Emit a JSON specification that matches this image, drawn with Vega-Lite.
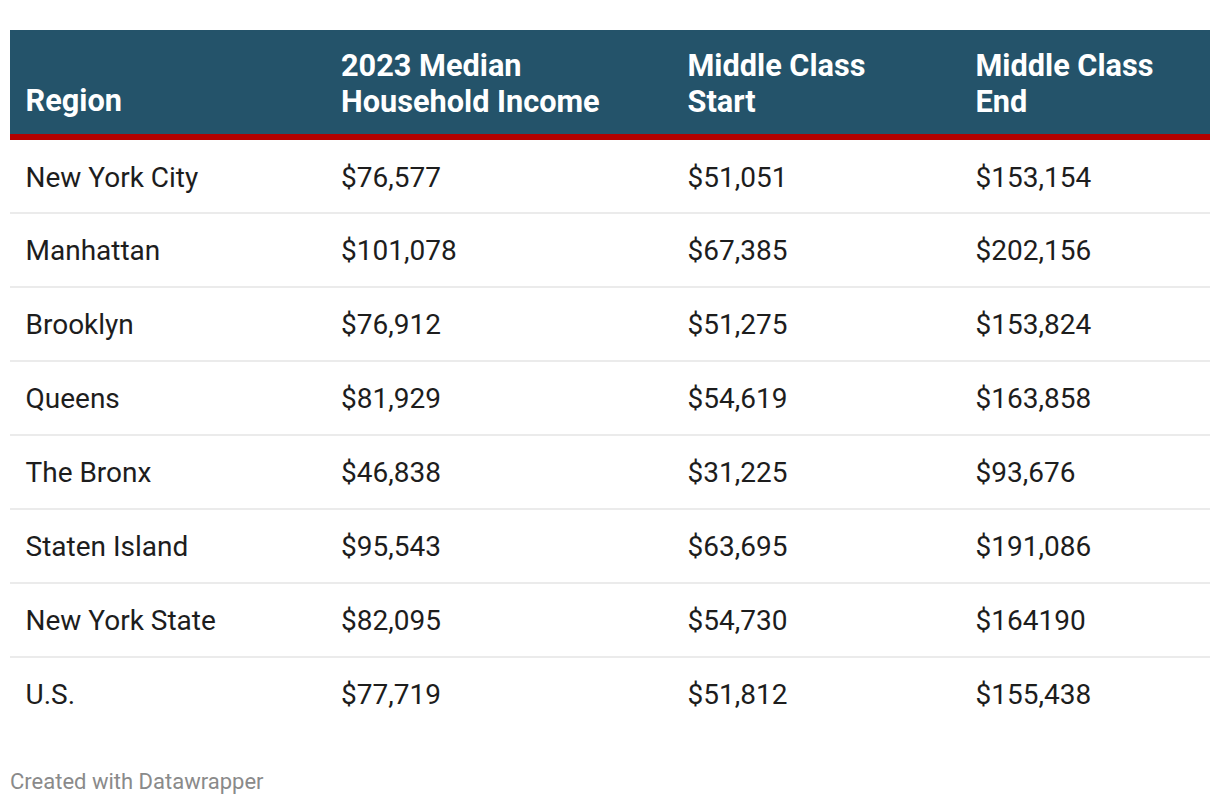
{
  "$schema": "https://vega.github.io/schema/vega-lite/v6.json",
  "width": 1220,
  "height": 806,
  "autosize": {"type": "fit", "contains": "padding"},
  "padding": {"left": 10, "right": 10, "top": 0, "bottom": 13},
  "background": "white",
  "config": {"font": "Roboto", "view": {"stroke": null}},
  "title": {
    "text": "Created with Datawrapper",
    "orient": "bottom",
    "anchor": "start",
    "fontSize": 22,
    "fontWeight": "normal",
    "font": "Roboto",
    "color": "#8a8a8a",
    "offset": 0
  },
  "data": {
    "values": [
      {"row": 0, "col": 0, "text": "Region"},
      {"row": 0, "col": 1, "text": "2023 Median\nHousehold Income"},
      {"row": 0, "col": 2, "text": "Middle Class\nStart"},
      {"row": 0, "col": 3, "text": "Middle Class\nEnd"},
      {"row": 1, "col": 0, "text": "New York City"},
      {"row": 1, "col": 1, "text": "$76,577"},
      {"row": 1, "col": 2, "text": "$51,051"},
      {"row": 1, "col": 3, "text": "$153,154"},
      {"row": 2, "col": 0, "text": "Manhattan"},
      {"row": 2, "col": 1, "text": "$101,078"},
      {"row": 2, "col": 2, "text": "$67,385"},
      {"row": 2, "col": 3, "text": "$202,156"},
      {"row": 3, "col": 0, "text": "Brooklyn"},
      {"row": 3, "col": 1, "text": "$76,912"},
      {"row": 3, "col": 2, "text": "$51,275"},
      {"row": 3, "col": 3, "text": "$153,824"},
      {"row": 4, "col": 0, "text": "Queens"},
      {"row": 4, "col": 1, "text": "$81,929"},
      {"row": 4, "col": 2, "text": "$54,619"},
      {"row": 4, "col": 3, "text": "$163,858"},
      {"row": 5, "col": 0, "text": "The Bronx"},
      {"row": 5, "col": 1, "text": "$46,838"},
      {"row": 5, "col": 2, "text": "$31,225"},
      {"row": 5, "col": 3, "text": "$93,676"},
      {"row": 6, "col": 0, "text": "Staten Island"},
      {"row": 6, "col": 1, "text": "$95,543"},
      {"row": 6, "col": 2, "text": "$63,695"},
      {"row": 6, "col": 3, "text": "$191,086"},
      {"row": 7, "col": 0, "text": "New York State"},
      {"row": 7, "col": 1, "text": "$82,095"},
      {"row": 7, "col": 2, "text": "$54,730"},
      {"row": 7, "col": 3, "text": "$164190"},
      {"row": 8, "col": 0, "text": "U.S."},
      {"row": 8, "col": 1, "text": "$77,719"},
      {"row": 8, "col": 2, "text": "$51,812"},
      {"row": 8, "col": 3, "text": "$155,438"}
    ]
  },
  "layer": [
    {
      "transform": [{"filter": "datum.row === 0 && datum.col === 0"}],
      "mark": {"type": "rect", "color": "#24536a", "y2Offset": -6},
      "encoding": {
        "x": {"datum": 0, "type": "quantitative", "axis": null,
              "scale": {"domain": [0, 1, 2, 3, 4], "range": [0, 315.5, 662, 950, 1200], "nice": false, "zero": false}},
        "x2": {"datum": 4},
        "y": {"datum": 0, "type": "quantitative", "axis": null,
              "scale": {"domain": [0, 1, 2, 9], "range": [30, 140, 213, 731], "nice": false, "zero": false}},
        "y2": {"datum": 1}
      }
    },
    {
      "transform": [{"filter": "datum.row === 0 && datum.col === 0"}],
      "mark": {"type": "rect", "color": "#b30000", "yOffset": -6},
      "encoding": {
        "x": {"datum": 0, "type": "quantitative", "axis": null},
        "x2": {"datum": 4},
        "y": {"datum": 1, "type": "quantitative", "axis": null},
        "y2": {"datum": 1}
      }
    },
    {
      "transform": [{"filter": "datum.row >= 2 && datum.col === 0"}],
      "mark": {"type": "rect", "color": "#ebebeb", "yOffset": -1, "y2Offset": 1},
      "encoding": {
        "x": {"datum": 0, "type": "quantitative", "axis": null},
        "x2": {"datum": 4},
        "y": {"field": "row", "type": "quantitative", "axis": null},
        "y2": {"field": "row"}
      }
    },
    {
      "transform": [{"filter": "datum.row === 0 && datum.col === 0"}],
      "mark": {"type": "text", "align": "left", "baseline": "bottom",
               "fontSize": 30.7, "fontWeight": "bold", "color": "#ffffff", "dx": 15.5, "dy": -23},
      "encoding": {
        "x": {"field": "col", "type": "quantitative", "axis": null},
        "y": {"datum": 1, "type": "quantitative", "axis": null},
        "text": {"field": "text"}
      }
    },
    {
      "transform": [{"filter": "datum.row === 0 && datum.col > 0"}],
      "mark": {"type": "text", "align": "left", "baseline": "bottom", "lineBreak": "\n", "lineHeight": 36,
               "fontSize": 30.7, "fontWeight": "bold", "color": "#ffffff", "dx": 15.5, "dy": -58.5},
      "encoding": {
        "x": {"field": "col", "type": "quantitative", "axis": null},
        "y": {"datum": 1, "type": "quantitative", "axis": null},
        "text": {"field": "text"}
      }
    },
    {
      "transform": [{"filter": "datum.row >= 1"}],
      "mark": {"type": "text", "align": "left", "baseline": "line-top", "lineHeight": 74,
               "fontSize": 28, "color": "#1d1d1d", "dx": 15.5, "dy": 1.5},
      "encoding": {
        "x": {"field": "col", "type": "quantitative", "axis": null},
        "y": {"field": "row", "type": "quantitative", "axis": null},
        "text": {"field": "text"}
      }
    }
  ]
}
